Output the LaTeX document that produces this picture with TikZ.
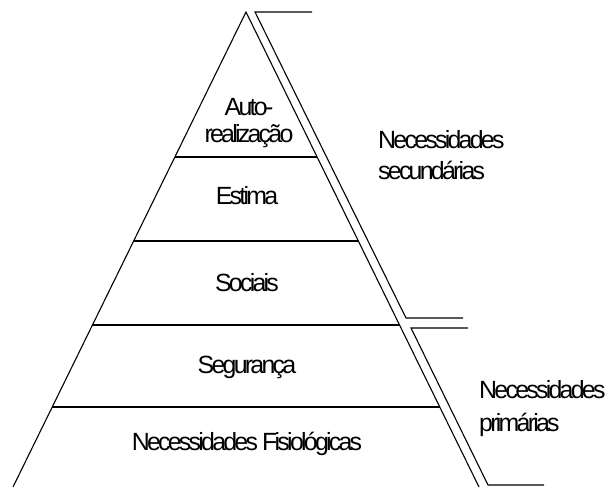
\documentclass[tikz,border=0pt]{standalone}
\usepackage{fontspec}
\newfontfamily\pyrfont{Liberation Sans}[LetterSpace=-11]
\usetikzlibrary{calc,positioning}

\begin{document}
\begin{tikzpicture}[x=1bp, y=-1bp,
    font=\pyrfont\fontsize{25}{28}\selectfont,
    edge/.style={draw, black, line width=1.1pt},
    level/.style={inner sep=0pt, anchor=base},
    group/.style={inner sep=0pt, anchor=base west, align=left}]

\useasboundingbox (0,0) rectangle (607,488);

% pyramid
\coordinate (apex) at (246,12);
\coordinate (bl) at (13,487);
\coordinate (br) at (479,487);
\draw [edge] (bl) -- (apex) -- (br);
\foreach \t/\n in {0.3053/a, 0.4821/b, 0.6589/c, 0.8316/d}
  \draw [edge] ($(apex)!\t!(bl)$) -- ($(apex)!\t!(br)$);

% levels (base = last line)
\node [level, align=center] (auto) at (249,143) {Auto-\\realização};
\node [level] (estima) at (247,205) {Estima};
\node [level] (sociais) at (247,291) {Sociais};
\node [level] (seg) at (247,373) {Segurança};
\node [level] (fisio) at (247,450) {Necessidades Fisiológicas};

% brackets
\coordinate (s1) at (312,12);
\coordinate (s2) at (255,12);
\coordinate (s3) at (406,318);
\coordinate (s4) at (463,318);
\coordinate (p1) at (468,328);
\coordinate (p2) at (411,328);
\coordinate (p3) at (488,485);
\coordinate (p4) at (544,485);
\draw [edge] (s1) -- (s2) -- (s3) -- (s4);
\draw [edge] (p1) -- (p2) -- (p3) -- (p4);

\node [group, font=\pyrfont\fontsize{25}{32}\selectfont] (sec) at (378,180) {Necessidades\\secundárias};
\node [group, font=\pyrfont\fontsize{25}{33}\selectfont] (prim) at (479,431) {Necessidades\\primárias};

\end{tikzpicture}
\end{document}
